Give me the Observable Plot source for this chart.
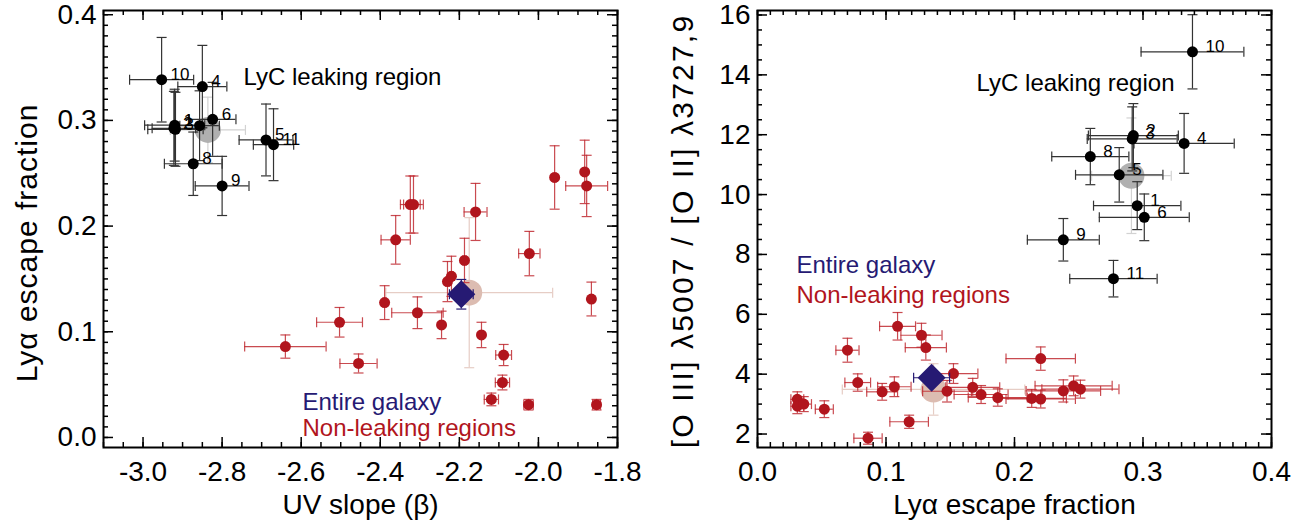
<!DOCTYPE html>
<html><head><meta charset="utf-8">
<script src="https://cdn.jsdelivr.net/npm/d3@7"></script>
<script src="https://cdn.jsdelivr.net/npm/@observablehq/plot@0.6"></script>
<style>
body{margin:0;background:#fff;}
#wrap{display:flex;width:1314px;height:527px;overflow:hidden;}
#wrap svg{display:block;flex:none;}
</style></head><body><div id="wrap"></div>
<script>
// ---------------- DATA ----------------
// Non-leaking regions (paired: same region in both panels)
const redFesc     = [0.031, 0.031, 0.036, 0.052, 0.070, 0.078, 0.086, 0.097, 0.1065, 0.109, 0.118, 0.1276, 0.131, 0.1475, 0.1525, 0.1675, 0.174, 0.187, 0.2134, 0.2204, 0.2204, 0.238, 0.246, 0.2513];
const redFescErr  = [0.005, 0.005, 0.006, 0.007, 0.009, 0.010, 0.011, 0.012, 0.013, 0.014, 0.015, 0.016, 0.016, 0.019, 0.019, 0.021, 0.021, 0.023, 0.027, 0.027, 0.027, 0.029, 0.030, 0.030];
const redBeta     = [-2.025, -1.853, -2.119, -2.091, -2.455, -2.088, -2.640, -2.144, -2.245, -2.503, -2.306, -2.389, -1.866, -2.230, -2.220, -2.187, -2.023, -2.361, -2.159, -2.324, -2.316, -1.878, -1.959, -1.883];
const redBetaErr  = [0.012, 0.010, 0.018, 0.018, 0.047, 0.020, 0.103, 0.005, 0.005, 0.058, 0.065, 0.004, 0.004, 0.005, 0.005, 0.005, 0.027, 0.037, 0.029, 0.025, 0.025, 0.053, 0.004, 0.004];
const redRatio    = [3.16, 2.93, 3.00, 2.83, 4.80, 3.72, 1.86, 3.41, 3.58, 5.60, 2.41, 5.30, 4.89, 3.43, 4.02, 3.56, 3.32, 3.22, 3.19, 3.17, 4.52, 3.44, 3.61, 3.50];
const redRatioErr = [0.25, 0.25, 0.25, 0.28, 0.40, 0.29, 0.20, 0.28, 0.33, 0.46, 0.22, 0.40, 0.42, 0.36, 0.33, 0.30, 0.30, 0.29, 0.30, 0.30, 0.39, 0.37, 0.33, 0.30];

// LyC leaking sub-regions (numbered)
const leakLabel    = ["1", "2", "3", "4", "5", "6", "", "8", "9", "10", "11"];
const leakFesc     = [0.2955, 0.2925, 0.2916, 0.332, 0.2815, 0.301, 0.295, 0.259, 0.238, 0.3385, 0.277];
const leakFescErr  = [0.034, 0.035, 0.035, 0.039, 0.034, 0.035, 0.033, 0.030, 0.028, 0.040, 0.034];
const leakBeta     = [-2.920, -2.922, -2.918, -2.850, -2.689, -2.824, -2.857, -2.873, -2.800, -2.953, -2.670];
const leakBetaErr  = [0.076, 0.055, 0.070, 0.062, 0.068, 0.059, 0.050, 0.073, 0.068, 0.081, 0.051];
const leakRatio    = [9.63, 11.97, 11.86, 11.71, 10.66, 9.24, null, 11.27, 8.49, 14.77, 7.19];
const leakRatioErr = [0.80, 1.07, 1.07, 1.00, 0.91, 0.78, null, 0.94, 0.71, 1.24, 0.61];

// LyC leaking region as a whole (grey disc)
const lycFesc = [0.291], lycFescErr = [0.031], lycBeta = [-2.836], lycBetaErr = [0.095], lycRatio = [10.63], lycRatioErr = [1.93];
// Entire galaxy: integrated (pink disc) and diamond
const galFesc = [0.137], galFescErr = [0.071], galBeta = [-2.175], galBetaErr = [0.211], galRatio = [3.49], galRatioErr = [0.86];
const dmFesc = [0.1355], dmFescErr = [0.014], dmBeta = [-2.195], dmBetaErr = [0.030], dmRatio = [3.88], dmRatioErr = [0.12];

// Axes / ticks
const leftXTicks = [-3.0, -2.8, -2.6, -2.4, -2.2, -2.0, -1.8];
const leftYTicks = [0.0, 0.1, 0.2, 0.3, 0.4];
const rightXTicks = [0.0, 0.1, 0.2, 0.3, 0.4];
const rightYTicks = [2, 4, 6, 8, 10, 12, 14, 16];
const leftXDomain = [-3.1, -1.8], leftYDomain = [-0.0095, 0.404];
const rightXDomain = [0, 0.4], rightYDomain = [1.55, 16.15];

// ---------------- BUILD ----------------
const rows = (keys, ...cols) => cols[0].map((_, i) => Object.fromEntries(keys.map((k, j) => [k, cols[j][i]])));

const red = rows(["f","fe","b","be","r","re"], redFesc, redFescErr, redBeta, redBetaErr, redRatio, redRatioErr);
const leak = rows(["lab","f","fe","b","be","r","re"], leakLabel, leakFesc, leakFescErr, leakBeta, leakBetaErr, leakRatio, leakRatioErr);
const lyc = rows(["f","fe","b","be","r","re"], lycFesc, lycFescErr, lycBeta, lycBetaErr, lycRatio, lycRatioErr);
const gal = rows(["f","fe","b","be","r","re"], galFesc, galFescErr, galBeta, galBetaErr, galRatio, galRatioErr);
const dm = rows(["f","fe","b","be","r","re"], dmFesc, dmFescErr, dmBeta, dmBetaErr, dmRatio, dmRatioErr);

const RED = "#b1151d", REDERR = "#bf2a31", NAVY = "#261a73", FONT = "Liberation Sans, Arial, Helvetica, sans-serif";
const capV = {draw(c){c.moveTo(0,-5);c.lineTo(0,5);}};
const capH = {draw(c){c.moveTo(-5,0);c.lineTo(5,0);}};
const diamond = {draw(c){c.moveTo(0,-14);c.lineTo(14,0);c.lineTo(0,14);c.lineTo(-14,0);c.closePath();}};

function errorBars(data, X, XE, Y, YE, style) {
  const s = {strokeWidth: 1.2, ...style};
  const x = d => d[X], y = d => d[Y];
  const dx = data.filter(d => d[XE] != null), dy = data.filter(d => d[YE] != null);
  return [
    Plot.ruleY(dx, {y, x1: d => d[X] - d[XE], x2: d => d[X] + d[XE], ...s}),
    Plot.ruleX(dy, {x, y1: d => d[Y] - d[YE], y2: d => d[Y] + d[YE], ...s}),
    Plot.dot(dx, {x: d => d[X] - d[XE], y, symbol: capV, fill: "none", ...s}),
    Plot.dot(dx, {x: d => d[X] + d[XE], y, symbol: capV, fill: "none", ...s}),
    Plot.dot(dy, {x, y: d => d[Y] - d[YE], symbol: capH, fill: "none", ...s}),
    Plot.dot(dy, {x, y: d => d[Y] + d[YE], symbol: capH, fill: "none", ...s})
  ];
}

function frameTicks(xMajor, xMinor, yMajor, yMinor, pw, ph) {
  const k = {stroke: "black", strokeWidth: 1.5};
  return [
    Plot.tickX(xMinor, {x: d => d, insetTop: ph - 5, ...k}),
    Plot.tickX(xMinor, {x: d => d, insetBottom: ph - 5, ...k}),
    Plot.tickX(xMajor, {x: d => d, insetTop: ph - 10, ...k}),
    Plot.tickX(xMajor, {x: d => d, insetBottom: ph - 10, ...k}),
    Plot.tickY(yMinor, {y: d => d, insetRight: pw - 5, ...k}),
    Plot.tickY(yMinor, {y: d => d, insetLeft: pw - 5, ...k}),
    Plot.tickY(yMajor, {y: d => d, insetRight: pw - 10, ...k}),
    Plot.tickY(yMajor, {y: d => d, insetLeft: pw - 10, ...k}),
    Plot.frame({stroke: "black", strokeWidth: 2})
  ];
}

function note(txt, dx, dy, fill, anchor = "start") {
  return Plot.text([txt], {frameAnchor: "top-left", dx, dy, text: d => d, textAnchor: anchor, lineAnchor: "middle", fontSize: 24, fill});
}

function spaceText(svg, txt, spacing) {
  svg.querySelectorAll("text").forEach(t => { if (t.textContent === txt) t.style.letterSpacing = spacing + "px"; });
}

const H = 527, W = 657, MT = 10, MB = 80;
const ph = H - MT - MB;
const TICKFS = 28, TITLEFS = 28, YTITLEFS = 30;
const leftYTitle = "Lyα escape fraction", rightYTitle = "[O III] λ5007 / [O II] λ3727,9";

// ---- Left panel ----
{
  const ML = 103, MR = 40, pw = W - ML - MR;
  const xMinor = d3.range(-3.1, -1.8 + 1e-9, 0.05).map(v => +v.toFixed(2));
  const yMinor = d3.range(0, 0.4 + 1e-9, 0.01).map(v => +v.toFixed(2));
  const p = Plot.plot({
    width: W, height: H, marginLeft: ML, marginRight: MR, marginTop: MT, marginBottom: MB,
    style: {fontFamily: FONT, background: "white", color: "black"},
    x: {domain: leftXDomain, axis: null},
    y: {domain: leftYDomain, axis: null},
    marks: [
      ...errorBars(gal, "b", "be", "f", "fe", {stroke: "#e6cdc5"}),
      Plot.dot(gal, {x: "b", y: "f", r: 13, fill: "#dcbcb1"}),
      ...errorBars(red, "b", "be", "f", "fe", {stroke: REDERR, strokeOpacity: 0.85}),
      Plot.dot(red, {x: "b", y: "f", r: 5.5, fill: RED}),
      ...errorBars(lyc, "b", "be", "f", "fe", {stroke: "#d2d2d2"}),
      Plot.dot(lyc, {x: "b", y: "f", r: 13, fill: "#b0b0b0"}),
      ...errorBars(leak, "b", "be", "f", "fe", {stroke: "#333"}),
      Plot.dot(leak, {x: "b", y: "f", r: 5.5, fill: "black"}),
      Plot.text(leak, {x: "b", y: "f", text: "lab", dx: 9, dy: -5, textAnchor: "start", fontSize: 17, fill: "black"}),
      ...errorBars(dm, "b", "be", "f", "fe", {stroke: NAVY}),
      Plot.dot(dm, {x: "b", y: "f", symbol: diamond, fill: NAVY, stroke: "none"}),
      note("LyC leaking region", 140, 67, "black"),
      note("Entire galaxy", 199, 392, NAVY),
      note("Non-leaking regions", 199, 418, RED),
      ...frameTicks(leftXTicks, xMinor, leftYTicks, yMinor, pw, ph),
      Plot.axisX(leftXTicks, {anchor: "bottom", tickSize: 0, tickPadding: 14, tickFormat: d => d.toFixed(1), fontSize: TICKFS, label: null}),
      Plot.axisY(leftYTicks, {anchor: "left", tickSize: 0, tickPadding: 7, tickFormat: d => d.toFixed(1), fontSize: TICKFS, label: null}),
      Plot.text(["UV slope (β)"], {frameAnchor: "bottom", dy: 58, lineAnchor: "middle", textAnchor: "middle", text: d => d, fontSize: TITLEFS, fill: "black"}),
      Plot.text([leftYTitle], {frameAnchor: "left", dx: -76, dy: 14, rotate: -90, textAnchor: "middle", lineAnchor: "middle", text: d => d, fontSize: YTITLEFS, fill: "black"})
    ]
  });
  spaceText(p, leftYTitle, 1);
  document.getElementById("wrap").append(p);
}

// ---- Right panel ----
{
  const ML = 100, MR = 43, pw = W - ML - MR;
  const xMinor = d3.range(0, 0.4 + 1e-9, 0.01).map(v => +v.toFixed(2));
  const yMinor = d3.range(2, 16 + 1e-9, 0.5).map(v => +v.toFixed(1));
  const leakR = leak.filter(d => d.r != null);
  const p = Plot.plot({
    width: W, height: H, marginLeft: ML, marginRight: MR, marginTop: MT, marginBottom: MB,
    style: {fontFamily: FONT, background: "white", color: "black"},
    x: {domain: rightXDomain, axis: null},
    y: {domain: rightYDomain, axis: null},
    marks: [
      ...errorBars(gal, "f", "fe", "r", "re", {stroke: "#e6cdc5"}),
      Plot.dot(gal, {x: "f", y: "r", r: 13, fill: "#dcbcb1"}),
      ...errorBars(red, "f", "fe", "r", "re", {stroke: REDERR, strokeOpacity: 0.85}),
      Plot.dot(red, {x: "f", y: "r", r: 5.5, fill: RED}),
      ...errorBars(lyc, "f", "fe", "r", "re", {stroke: "#d2d2d2"}),
      Plot.dot(lyc, {x: "f", y: "r", r: 13, fill: "#b0b0b0"}),
      ...errorBars(leakR, "f", "fe", "r", "re", {stroke: "#333"}),
      Plot.dot(leakR, {x: "f", y: "r", r: 5.5, fill: "black"}),
      Plot.text(leakR, {x: "f", y: "r", text: "lab", dx: 13, dy: -5, textAnchor: "start", fontSize: 17, fill: "black"}),
      ...errorBars(dm, "f", "fe", "r", "re", {stroke: NAVY}),
      Plot.dot(dm, {x: "f", y: "r", symbol: diamond, fill: NAVY, stroke: "none"}),
      note("LyC leaking region", 417, 73, "black", "end"),
      note("Entire galaxy", 39, 255, NAVY),
      note("Non-leaking regions", 39, 285, RED),
      ...frameTicks(rightXTicks, xMinor, rightYTicks, yMinor, pw, ph),
      Plot.axisX(rightXTicks, {anchor: "bottom", tickSize: 0, tickPadding: 14, tickFormat: d => d.toFixed(1), fontSize: TICKFS, label: null}),
      Plot.axisY(rightYTicks, {anchor: "left", tickSize: 0, tickPadding: 7, tickFormat: d => String(d), fontSize: TICKFS, label: null}),
      Plot.text(["Lyα escape fraction"], {frameAnchor: "bottom", dy: 58, lineAnchor: "middle", textAnchor: "middle", text: d => d, fontSize: TITLEFS, fill: "black"}),
      Plot.text([rightYTitle], {frameAnchor: "left", dx: -74, dy: 2, rotate: -90, textAnchor: "middle", lineAnchor: "middle", text: d => d, fontSize: YTITLEFS, fill: "black"})
    ]
  });
  spaceText(p, rightYTitle, 2.2);
  document.getElementById("wrap").append(p);
}
</script></body></html>
